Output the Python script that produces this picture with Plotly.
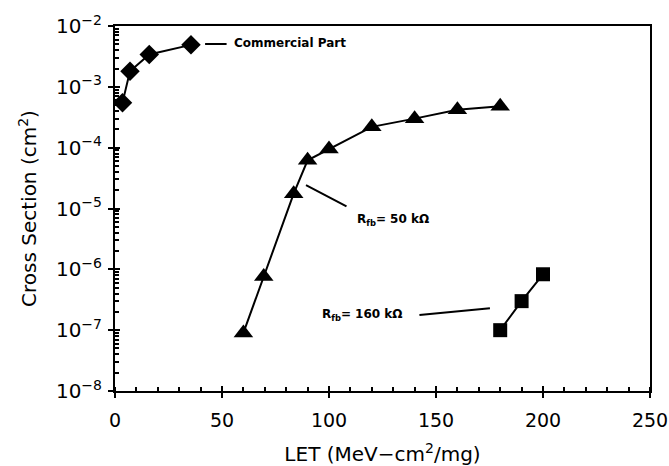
import numpy as np
import plotly.graph_objects as go

# Data
comm_let = [3.5, 7, 16, 35.5]
comm_cs = [5.5e-4, 1.8e-3, 3.4e-3, 4.9e-3]

r50_let = [60, 69.5, 83.5, 90, 100, 120, 140, 160, 180]
r50_cs = [9e-8, 7.6e-7, 1.75e-5, 6.2e-5, 9.5e-5, 2.2e-4, 3.0e-4, 4.2e-4, 4.8e-4]

r160_let = [180, 190, 200]
r160_cs = [1.0e-7, 3.0e-7, 8.3e-7]

x_ticks = [0, 50, 100, 150, 200, 250]
y_exps = [-8, -7, -6, -5, -4, -3, -2]

FONT = "DejaVu Sans"

fig = go.Figure()
line = dict(color="black", width=2)
fig.add_trace(go.Scatter(x=comm_let, y=comm_cs, mode="lines+markers", line=line,
                         marker=dict(symbol="diamond", size=15, color="black"),
                         showlegend=False))
fig.add_trace(go.Scatter(x=r50_let, y=r50_cs, mode="lines+markers", line=line,
                         marker=dict(symbol="triangle-up", size=17, color="black"),
                         showlegend=False))
fig.add_trace(go.Scatter(x=r160_let, y=r160_cs, mode="lines+markers", line=line,
                         marker=dict(symbol="square", size=14, color="black"),
                         showlegend=False))
# invisible trace to anchor overlay axes
fig.add_trace(go.Scatter(x=[None], y=[None], xaxis="x2", yaxis="y2", showlegend=False,
                         hoverinfo="skip"))

yvals = [10.0 ** e for e in y_exps]
ytext = [f"10<sup>\u2212{abs(e)}</sup>" for e in y_exps]
yminor = [m * 10.0 ** e for e in y_exps[:-1] for m in range(2, 10)]
xminor = list(range(0, 251, 10))

xr = [0, 250]
yr = [-8, -2]

fig.update_layout(
    width=669, height=466,
    margin=dict(l=115, r=19, t=26, b=75),
    paper_bgcolor="white", plot_bgcolor="white",
    font=dict(family=FONT, color="black"),
    xaxis=dict(range=xr, tickvals=x_ticks, ticks="outside", ticklen=5, tickwidth=2,
               tickcolor="black", showline=True, linecolor="black", linewidth=2,
               mirror=True, showgrid=False, zeroline=False, automargin=False,
               tickfont=dict(size=19, family=FONT), ticklabelstandoff=6,
               minor=dict(tickvals=xminor, ticks="inside", ticklen=4, tickwidth=2,
                          tickcolor="black", showgrid=False),
               title=dict(text="LET (MeV\u2212cm<sup>2</sup>/mg)", font=dict(size=20, family=FONT),
                          standoff=18)),
    yaxis=dict(type="log", range=yr, tickvals=yvals, ticktext=ytext, ticks="outside",
               ticklen=5, tickwidth=2, tickcolor="black", showline=True,
               linecolor="black", linewidth=2, mirror=True, showgrid=False,
               zeroline=False, automargin=False,
               tickfont=dict(size=20, family=FONT), ticklabelstandoff=2,
               minor=dict(tickvals=yminor, ticks="inside", ticklen=4, tickwidth=1.5,
                          tickcolor="black", showgrid=False),
               title=dict(text="Cross Section (cm<sup>2</sup>)", font=dict(size=20, family=FONT),
                          standoff=14)),
    xaxis2=dict(range=xr, overlaying="x", anchor="y2", tickvals=x_ticks, ticks="inside",
                ticklen=5, tickwidth=2, tickcolor="black", showticklabels=False,
                showgrid=False, zeroline=False, showline=False, automargin=False),
    yaxis2=dict(type="log", range=yr, overlaying="y", anchor="x2", tickvals=yvals,
                ticks="inside", ticklen=5, tickwidth=2, tickcolor="black",
                showticklabels=False, showgrid=False, zeroline=False, showline=False,
                automargin=False),
)

ann_font = dict(family=FONT, size=12, color="black")
annotations = [
    # text labels
    dict(x=54.7, y=-2.28, text="<b>Commercial Part</b>", showarrow=False,
         xanchor="left", yanchor="middle", font=ann_font),
    dict(x=112.1, y=-5.19, text="<b>R<sub>fb</sub>= 50 k\u03a9</b>", showarrow=False,
         xanchor="left", yanchor="middle", font=ann_font),
    dict(x=95.8, y=-6.75, text="<b>R<sub>fb</sub>= 160 k\u03a9</b>", showarrow=False,
         xanchor="left", yanchor="middle", font=ann_font),
    # leader lines
    dict(x=42.1, y=-2.296, text="", showarrow=True, arrowhead=0, arrowwidth=2,
         arrowcolor="black", ax=23, ay=0, standoff=0, startstandoff=0),
    dict(x=89.25, y=-4.615, text="", showarrow=True, arrowhead=0, arrowwidth=2,
         arrowcolor="black", ax=42, ay=22, standoff=0, startstandoff=0),
    dict(x=175.2, y=-6.638, text="", showarrow=True, arrowhead=0, arrowwidth=2,
         arrowcolor="black", ax=-72, ay=7, standoff=0, startstandoff=0),
]
fig.update_layout(annotations=annotations)

fig.write_html("out.html")
